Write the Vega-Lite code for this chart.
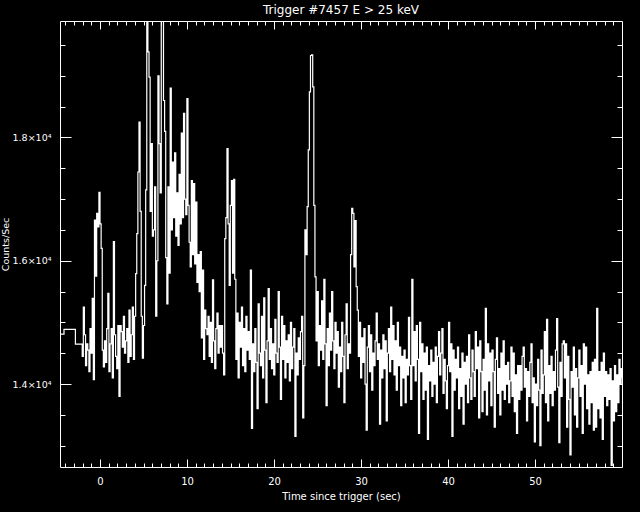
{
"$schema": "https://vega.github.io/schema/vega-lite/v6.json",
"width": 562, "height": 446,
"autosize": {"type": "none"},
"padding": {"left": 60, "top": 21, "right": 18, "bottom": 45},
"background": "black",
"config": {"view": {"stroke": null},
 "axis": {"labelFont": "DejaVu Sans", "titleFont": "DejaVu Sans", "labelColor": "white", "titleColor": "white", "tickColor": "white", "domainColor": "white", "grid": false, "labelFontSize": 10, "titleFontSize": 10, "titleFontWeight": "normal", "tickWidth": 1, "domainWidth": 1}},
"title": {"text": "Trigger #7457 E > 25 keV", "color": "white", "font": "DejaVu Sans", "fontSize": 12, "fontWeight": "normal", "offset": 2, "baseline": "bottom", "dy": 14},
"data": {"values": [
{"t":-4.7,"c":14811},{"t":-4.14,"c":14886},{"t":-2.83,"c":14648},
{"t":-2.048,"c":14450},{"t":-1.92,"c":15250},{"t":-1.792,"c":14800},{"t":-1.664,"c":14300},{"t":-1.536,"c":14650},{"t":-1.408,"c":14550},{"t":-1.28,"c":14200},{"t":-1.152,"c":14900},
{"t":-1.024,"c":14500},{"t":-0.896,"c":15390},{"t":-0.768,"c":14070},{"t":-0.64,"c":16660},{"t":-0.512,"c":15750},{"t":-0.384,"c":16770},{"t":-0.256,"c":16550},{"t":-0.128,"c":17110},
{"t":0,"c":16600},{"t":0.128,"c":16200},{"t":0.256,"c":14550},{"t":0.384,"c":14280},{"t":0.512,"c":14700},{"t":0.64,"c":14350},{"t":0.768,"c":14900},{"t":0.896,"c":15470},
{"t":1.024,"c":14200},{"t":1.152,"c":14650},{"t":1.28,"c":14900},{"t":1.408,"c":14100},{"t":1.536,"c":16310},{"t":1.664,"c":14800},{"t":1.792,"c":14450},{"t":1.92,"c":14250},
{"t":2.048,"c":14950},{"t":2.176,"c":13800},{"t":2.304,"c":14950},{"t":2.432,"c":14850},{"t":2.56,"c":14600},{"t":2.688,"c":15100},{"t":2.816,"c":14500},{"t":2.944,"c":14700},
{"t":3.072,"c":14900},{"t":3.2,"c":14350},{"t":3.328,"c":15200},{"t":3.456,"c":14450},{"t":3.584,"c":14800},{"t":3.712,"c":15250},{"t":3.84,"c":14400},{"t":3.968,"c":15100},
{"t":4.096,"c":15790},{"t":4.224,"c":16440},{"t":4.352,"c":17440},{"t":4.48,"c":18250},{"t":4.608,"c":16800},{"t":4.736,"c":15100},{"t":4.864,"c":14420},{"t":4.992,"c":14950},
{"t":5.12,"c":15600},{"t":5.248,"c":17150},{"t":5.376,"c":19950},{"t":5.504,"c":19390},{"t":5.632,"c":18980},{"t":5.76,"c":16800},{"t":5.888,"c":17900},{"t":6.016,"c":16400},
{"t":6.144,"c":16500},{"t":6.272,"c":17200},{"t":6.4,"c":15100},{"t":6.528,"c":16000},{"t":6.656,"c":19000},{"t":6.784,"c":17900},{"t":6.912,"c":17100},{"t":7.04,"c":19950},
{"t":7.168,"c":19950},{"t":7.296,"c":18600},{"t":7.424,"c":18100},{"t":7.552,"c":16050},{"t":7.68,"c":15300},{"t":7.808,"c":17200},{"t":7.936,"c":15800},{"t":8.064,"c":18800},
{"t":8.192,"c":16500},{"t":8.32,"c":17600},{"t":8.448,"c":16700},{"t":8.576,"c":17750},{"t":8.704,"c":16400},{"t":8.832,"c":17100},{"t":8.96,"c":16250},{"t":9.088,"c":17400},
{"t":9.216,"c":16600},{"t":9.344,"c":18070},{"t":9.472,"c":16700},{"t":9.6,"c":18390},{"t":9.728,"c":17000},{"t":9.856,"c":16750},{"t":9.984,"c":18630},{"t":10.112,"c":16900},
{"t":10.24,"c":16300},{"t":10.368,"c":15900},{"t":10.496,"c":17300},{"t":10.624,"c":16100},{"t":10.752,"c":17250},{"t":10.88,"c":15950},{"t":11.008,"c":16950},{"t":11.136,"c":15650},
{"t":11.264,"c":16100},{"t":11.392,"c":15500},{"t":11.52,"c":16150},{"t":11.648,"c":14750},{"t":11.776,"c":15850},{"t":11.904,"c":14400},{"t":12.032,"c":15200},{"t":12.16,"c":14900},
{"t":12.288,"c":14800},{"t":12.416,"c":15100},{"t":12.544,"c":14450},{"t":12.672,"c":15000},{"t":12.8,"c":14350},{"t":12.928,"c":15690},{"t":13.056,"c":14700},{"t":13.184,"c":14250},
{"t":13.312,"c":14900},{"t":13.44,"c":15150},{"t":13.568,"c":14500},{"t":13.696,"c":14950},{"t":13.824,"c":14600},{"t":13.952,"c":14950},{"t":14.08,"c":14500},{"t":14.208,"c":14150},
{"t":14.336,"c":16360},{"t":14.464,"c":16700},{"t":14.592,"c":17820},{"t":14.72,"c":16600},{"t":14.848,"c":15600},{"t":14.976,"c":16900},{"t":15.104,"c":17300},{"t":15.232,"c":15800},
{"t":15.36,"c":17320},{"t":15.488,"c":15700},{"t":15.616,"c":14400},{"t":15.744,"c":15150},{"t":15.872,"c":14100},{"t":16.0,"c":15000},{"t":16.128,"c":14600},{"t":16.256,"c":15250},
{"t":16.384,"c":14300},{"t":16.512,"c":14900},{"t":16.64,"c":14200},{"t":16.768,"c":15100},{"t":16.896,"c":14550},{"t":17.024,"c":14850},{"t":17.152,"c":14400},{"t":17.28,"c":15850},
{"t":17.408,"c":13280},{"t":17.536,"c":14650},{"t":17.664,"c":14200},{"t":17.792,"c":14900},{"t":17.92,"c":14350},{"t":18.048,"c":13600},{"t":18.176,"c":15300},{"t":18.304,"c":14500},
{"t":18.432,"c":14300},{"t":18.56,"c":15100},{"t":18.688,"c":14100},{"t":18.816,"c":15400},{"t":18.944,"c":14550},{"t":19.072,"c":13700},{"t":19.2,"c":14700},{"t":19.328,"c":15550},
{"t":19.456,"c":14400},{"t":19.584,"c":14900},{"t":19.712,"c":14250},{"t":19.84,"c":14650},{"t":19.968,"c":14150},{"t":20.096,"c":15050},{"t":20.224,"c":14500},{"t":20.352,"c":14350},
{"t":20.48,"c":15500},{"t":20.608,"c":14600},{"t":20.736,"c":13750},{"t":20.864,"c":15100},{"t":20.992,"c":14400},{"t":21.12,"c":14950},{"t":21.248,"c":14100},{"t":21.376,"c":14700},
{"t":21.504,"c":14350},{"t":21.632,"c":14800},{"t":21.76,"c":14050},{"t":21.888,"c":15000},{"t":22.016,"c":14250},{"t":22.144,"c":14600},{"t":22.272,"c":14900},{"t":22.4,"c":13150},
{"t":22.528,"c":14500},{"t":22.656,"c":14150},{"t":22.784,"c":14750},{"t":22.912,"c":14400},{"t":23.04,"c":14850},{"t":23.168,"c":15100},{"t":23.296,"c":13450},{"t":23.424,"c":14300},
{"t":23.552,"c":16500},{"t":23.68,"c":16100},{"t":23.808,"c":16880},{"t":23.936,"c":17800},{"t":24.064,"c":18740},{"t":24.192,"c":19330},{"t":24.32,"c":19340},{"t":24.448,"c":18820},
{"t":24.576,"c":16900},{"t":24.704,"c":15740},{"t":24.832,"c":14700},{"t":24.96,"c":15500},{"t":25.088,"c":14300},{"t":25.216,"c":14950},{"t":25.344,"c":14550},{"t":25.472,"c":15350},
{"t":25.6,"c":14400},{"t":25.728,"c":15700},{"t":25.856,"c":14650},{"t":25.984,"c":13650},{"t":26.112,"c":14900},{"t":26.24,"c":14300},{"t":26.368,"c":15150},{"t":26.496,"c":14550},
{"t":26.624,"c":15500},{"t":26.752,"c":14700},{"t":26.88,"c":14250},{"t":27.008,"c":15000},{"t":27.136,"c":14500},{"t":27.264,"c":14850},{"t":27.392,"c":13950},{"t":27.52,"c":14600},
{"t":27.648,"c":14200},{"t":27.776,"c":15000},{"t":27.904,"c":14450},{"t":28.032,"c":13700},{"t":28.16,"c":14800},{"t":28.288,"c":15300},{"t":28.416,"c":14250},{"t":28.544,"c":14650},
{"t":28.672,"c":14500},{"t":28.8,"c":16100},{"t":28.928,"c":16850},{"t":29.056,"c":16770},{"t":29.184,"c":15900},{"t":29.312,"c":16650},{"t":29.44,"c":15580},{"t":29.568,"c":15200},
{"t":29.696,"c":14450},{"t":29.824,"c":15000},{"t":29.952,"c":14100},{"t":30.08,"c":14750},{"t":30.208,"c":14350},{"t":30.336,"c":14900},{"t":30.464,"c":14000},{"t":30.592,"c":13250},
{"t":30.72,"c":14600},{"t":30.848,"c":14950},{"t":30.976,"c":14200},{"t":31.104,"c":14800},{"t":31.232,"c":13900},{"t":31.36,"c":14500},{"t":31.488,"c":14300},{"t":31.616,"c":14700},
{"t":31.744,"c":15150},{"t":31.872,"c":14400},{"t":32.0,"c":14650},{"t":32.128,"c":13350},{"t":32.256,"c":14550},{"t":32.384,"c":14100},{"t":32.512,"c":14800},{"t":32.64,"c":14250},
{"t":32.768,"c":14700},{"t":32.896,"c":13400},{"t":33.024,"c":14500},{"t":33.152,"c":14900},{"t":33.28,"c":14200},{"t":33.408,"c":15250},{"t":33.536,"c":14400},{"t":33.664,"c":14950},
{"t":33.792,"c":14150},{"t":33.92,"c":14700},{"t":34.048,"c":13900},{"t":34.176,"c":15000},{"t":34.304,"c":14300},{"t":34.432,"c":14600},{"t":34.56,"c":13650},{"t":34.688,"c":14450},
{"t":34.816,"c":14100},{"t":34.944,"c":14550},{"t":35.072,"c":13700},{"t":35.2,"c":14400},{"t":35.328,"c":14150},{"t":35.456,"c":15080},{"t":35.584,"c":14300},{"t":35.712,"c":13750},
{"t":35.84,"c":15700},{"t":35.968,"c":14300},{"t":36.096,"c":14850},{"t":36.224,"c":14050},{"t":36.352,"c":14950},{"t":36.48,"c":14400},{"t":36.608,"c":13200},{"t":36.736,"c":15000},
{"t":36.864,"c":14200},{"t":36.992,"c":14650},{"t":37.12,"c":13750},{"t":37.248,"c":14500},{"t":37.376,"c":13900},{"t":37.504,"c":14600},{"t":37.632,"c":13100},{"t":37.76,"c":14300},
{"t":37.888,"c":14050},{"t":38.016,"c":14550},{"t":38.144,"c":13800},{"t":38.272,"c":14350},{"t":38.4,"c":14000},{"t":38.528,"c":14600},{"t":38.656,"c":13700},{"t":38.784,"c":14450},
{"t":38.912,"c":14850},{"t":39.04,"c":14150},{"t":39.168,"c":14500},{"t":39.296,"c":14900},{"t":39.424,"c":13850},{"t":39.552,"c":14400},{"t":39.68,"c":14050},{"t":39.808,"c":13600},
{"t":39.936,"c":14300},{"t":40.064,"c":15000},{"t":40.192,"c":14200},{"t":40.32,"c":14650},{"t":40.448,"c":13150},{"t":40.576,"c":14550},{"t":40.704,"c":13900},{"t":40.832,"c":14400},
{"t":40.96,"c":14100},{"t":41.088,"c":14600},{"t":41.216,"c":13600},{"t":41.344,"c":14250},{"t":41.472,"c":13800},{"t":41.6,"c":14500},{"t":41.728,"c":13350},{"t":41.856,"c":14350},
{"t":41.984,"c":14000},{"t":42.112,"c":14450},{"t":42.24,"c":13700},{"t":42.368,"c":14800},{"t":42.496,"c":14100},{"t":42.624,"c":13750},{"t":42.752,"c":14550},{"t":42.88,"c":14200},
{"t":43.008,"c":13800},{"t":43.136,"c":14850},{"t":43.264,"c":14250},{"t":43.392,"c":14600},{"t":43.52,"c":13450},{"t":43.648,"c":14700},{"t":43.776,"c":14200},{"t":43.904,"c":13550},
{"t":44.032,"c":14400},{"t":44.16,"c":13900},{"t":44.288,"c":15230},{"t":44.416,"c":13500},{"t":44.544,"c":14650},{"t":44.672,"c":14050},{"t":44.8,"c":14500},{"t":44.928,"c":13650},
{"t":45.056,"c":14550},{"t":45.184,"c":14200},{"t":45.312,"c":13300},{"t":45.44,"c":14400},{"t":45.568,"c":14750},{"t":45.696,"c":13850},{"t":45.824,"c":14250},{"t":45.952,"c":13500},
{"t":46.08,"c":14500},{"t":46.208,"c":13900},{"t":46.336,"c":14700},{"t":46.464,"c":13750},{"t":46.592,"c":14300},{"t":46.72,"c":14000},{"t":46.848,"c":14350},{"t":46.976,"c":13700},
{"t":47.104,"c":14050},{"t":47.232,"c":14600},{"t":47.36,"c":13800},{"t":47.488,"c":14500},{"t":47.616,"c":13550},{"t":47.744,"c":14150},{"t":47.872,"c":13200},{"t":48.0,"c":14300},
{"t":48.128,"c":13750},{"t":48.256,"c":14300},{"t":48.384,"c":13900},{"t":48.512,"c":14450},{"t":48.64,"c":14600},{"t":48.768,"c":13950},{"t":48.896,"c":14250},{"t":49.024,"c":13400},
{"t":49.152,"c":14200},{"t":49.28,"c":13800},{"t":49.408,"c":14350},{"t":49.536,"c":14650},{"t":49.664,"c":13700},{"t":49.792,"c":14100},{"t":49.92,"c":13060},{"t":50.048,"c":14000},
{"t":50.176,"c":13650},{"t":50.304,"c":14400},{"t":50.432,"c":13900},{"t":50.56,"c":13000},{"t":50.688,"c":14550},{"t":50.816,"c":13850},{"t":50.944,"c":14150},{"t":51.072,"c":14850},
{"t":51.2,"c":13700},{"t":51.328,"c":15050},{"t":51.456,"c":13400},{"t":51.584,"c":14300},{"t":51.712,"c":13850},{"t":51.84,"c":14450},{"t":51.968,"c":13650},{"t":52.096,"c":14200},
{"t":52.224,"c":13900},{"t":52.352,"c":14550},{"t":52.48,"c":15060},{"t":52.608,"c":13950},{"t":52.736,"c":13050},{"t":52.864,"c":14350},{"t":52.992,"c":13800},{"t":53.12,"c":14650},
{"t":53.248,"c":14700},{"t":53.376,"c":14100},{"t":53.504,"c":14650},{"t":53.632,"c":13300},{"t":53.76,"c":14450},{"t":53.888,"c":13750},{"t":54.016,"c":12850},{"t":54.144,"c":14200},
{"t":54.272,"c":13950},{"t":54.4,"c":14600},{"t":54.528,"c":13500},{"t":54.656,"c":14250},{"t":54.784,"c":13300},{"t":54.912,"c":14100},{"t":55.04,"c":14550},{"t":55.168,"c":13800},
{"t":55.296,"c":14300},{"t":55.424,"c":13200},{"t":55.552,"c":14650},{"t":55.68,"c":14000},{"t":55.808,"c":14600},{"t":55.936,"c":13600},{"t":56.064,"c":14150},{"t":56.192,"c":13350},
{"t":56.32,"c":14200},{"t":56.448,"c":13700},{"t":56.576,"c":14350},{"t":56.704,"c":13250},{"t":56.832,"c":14400},{"t":56.96,"c":13300},{"t":57.088,"c":15230},{"t":57.216,"c":13600},
{"t":57.344,"c":14200},{"t":57.472,"c":13450},{"t":57.6,"c":14350},{"t":57.728,"c":13100},{"t":57.856,"c":14500},{"t":57.984,"c":13800},{"t":58.112,"c":14200},{"t":58.24,"c":13650},
{"t":58.368,"c":14150},{"t":58.496,"c":13750},{"t":58.624,"c":14250},{"t":58.752,"c":12680},{"t":58.88,"c":14050},{"t":59.008,"c":13400},{"t":59.136,"c":14300},{"t":59.264,"c":13550},
{"t":59.392,"c":14150},{"t":59.52,"c":13700},{"t":59.648,"c":14400},{"t":59.776,"c":14000},{"t":59.904,"c":14250},{"t":60.032,"c":14100}
]},
"layer": [
 {"mark": {"type": "line", "interpolate": "step-after", "color": "white", "strokeWidth": 1.2, "clip": true},
  "encoding": {
   "x": {"field": "t", "type": "quantitative", "scale": {"domain": [-4.6, 60], "nice": false, "zero": false},
     "axis": {"orient": "bottom", "values": [0,10,20,30,40,50], "tickSize": -8, "labelPadding": 17, "title": "Time since trigger (sec)", "titlePadding": 5, "labelFlush": false}},
   "y": {"field": "c", "type": "quantitative", "scale": {"domain": [12654, 19890], "nice": false, "zero": false},
     "axis": {"orient": "left", "values": [14000,16000,18000], "tickSize": -11, "labelPadding": 20, "labelFontSize": 9.5, "labelExpr": "format(datum.value/10000,'.1f') + '×10⁴'", "title": "Counts/Sec", "titleFontSize": 9.5, "titleAngle": -90, "titleX": -55, "titleY": 223, "titleAlign": "center", "titleBaseline": "middle"}}
  }},
 {"mark": {"type": "line", "opacity": 0},
  "encoding": {
   "x": {"field": "t", "type": "quantitative", "scale": {"domain": [-4.6, 60], "nice": false, "zero": false},
     "axis": {"orient": "bottom", "values": [-4,-3,-2,-1,1,2,3,4,5,6,7,8,9,11,12,13,14,15,16,17,18,19,21,22,23,24,25,26,27,28,29,31,32,33,34,35,36,37,38,39,41,42,43,44,45,46,47,48,49,51,52,53,54,55,56,57,58,59], "tickSize": -4, "labels": false, "domain": false, "title": null}},
   "y": {"field": "c", "type": "quantitative", "scale": {"domain": [12654, 19890], "nice": false, "zero": false},
     "axis": {"orient": "left", "values": [13000,13500,14500,15000,15500,16500,17000,17500,18500,19000,19500], "tickSize": -5, "labels": false, "domain": false, "title": null}}
  }},
 {"mark": {"type": "line", "opacity": 0},
  "encoding": {
   "x": {"field": "t", "type": "quantitative", "scale": {"domain": [-4.6, 60], "nice": false, "zero": false},
     "axis": {"orient": "top", "values": [0,10,20,30,40,50], "tickSize": -8, "labels": false, "title": null}},
   "y": {"field": "c", "type": "quantitative", "scale": {"domain": [12654, 19890], "nice": false, "zero": false},
     "axis": {"orient": "right", "values": [14000,16000,18000], "tickSize": -11, "labels": false, "title": null}}
  }},
 {"mark": {"type": "line", "opacity": 0},
  "encoding": {
   "x": {"field": "t", "type": "quantitative", "scale": {"domain": [-4.6, 60], "nice": false, "zero": false},
     "axis": {"orient": "top", "values": [-4,-3,-2,-1,1,2,3,4,5,6,7,8,9,11,12,13,14,15,16,17,18,19,21,22,23,24,25,26,27,28,29,31,32,33,34,35,36,37,38,39,41,42,43,44,45,46,47,48,49,51,52,53,54,55,56,57,58,59], "tickSize": -4, "labels": false, "domain": false, "title": null}},
   "y": {"field": "c", "type": "quantitative", "scale": {"domain": [12654, 19890], "nice": false, "zero": false},
     "axis": {"orient": "right", "values": [13000,13500,14500,15000,15500,16500,17000,17500,18500,19000,19500], "tickSize": -5, "labels": false, "domain": false, "title": null}}
  }}
],
"resolve": {"axis": {"x": "independent", "y": "independent"}}
}
